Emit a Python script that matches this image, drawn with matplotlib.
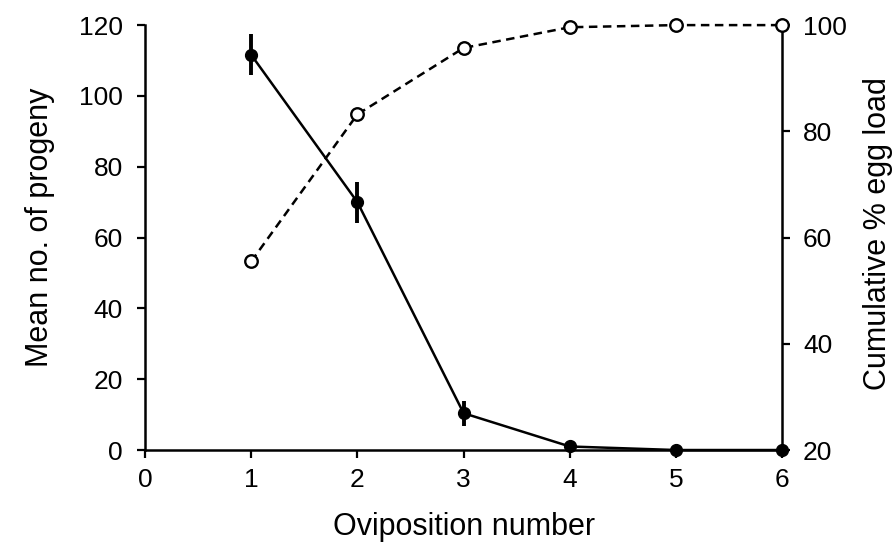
import matplotlib
matplotlib.use("Agg")
import matplotlib.pyplot as plt

plt.rcParams['font.family'] = ['Liberation Sans', 'DejaVu Sans']

oviposition = [1, 2, 3, 4, 5, 6]
mean_progeny = [111.6, 70.0, 10.4, 1.0, 0.0, 0.0]
progeny_err = [5.8, 5.8, 3.5, 0.0, 0.0, 0.0]
cum_egg_load = [55.5, 83.2, 95.7, 99.6, 100.0, 100.0]

x_ticks = [0, 1, 2, 3, 4, 5, 6]
left_ticks = [0, 20, 40, 60, 80, 100, 120]
right_ticks = [20, 40, 60, 80, 100]

fig = plt.figure(figsize=(8.95, 5.58), dpi=100)
ax = fig.add_axes([0.162, 0.1935, 0.712, 0.7615])
ax2 = ax.twinx()

ax.errorbar(oviposition, mean_progeny, yerr=progeny_err, color='black', lw=1.8,
            marker='o', ms=8.5, mfc='black', mec='black', elinewidth=2.8, capsize=0,
            clip_on=False, zorder=3)
ax2.plot(oviposition, cum_egg_load, color='black', lw=1.8, ls=(0, (3.4, 2.2)),
         marker='o', ms=9, mfc='white', mec='black', mew=1.7, clip_on=False, zorder=3)

ax.set_xlim(0, 6)
ax.set_ylim(0, 120)
ax2.set_ylim(20, 100)
ax.set_xticks(x_ticks)
ax.set_yticks(left_ticks)
ax2.set_yticks(right_ticks)

for a in (ax, ax2):
    a.spines['top'].set_visible(False)
    for s in a.spines.values():
        s.set_linewidth(1.8)
    a.tick_params(width=1.6, length=6, labelsize=19, direction='out')
ax.tick_params(axis='y', pad=10)
ax.tick_params(axis='x', pad=7)
ax2.tick_params(axis='y', pad=9)
ax.spines['right'].set_visible(False)
ax2.spines['left'].set_visible(False)
ax2.spines['bottom'].set_visible(False)

ax.set_xlabel('Oviposition number', fontsize=22)
ax.set_ylabel('Mean no. of progeny', fontsize=22)
ax2.set_ylabel('Cumulative % egg load', fontsize=22)
ax.xaxis.set_label_coords(0.5, -0.145)
ax.yaxis.set_label_coords(-0.142, 0.525)
ax2.yaxis.set_label_coords(1.127, 0.51)
ax.set_zorder(ax2.get_zorder() + 1)
ax.patch.set_visible(False)

fig.savefig('out.png', dpi=100)
